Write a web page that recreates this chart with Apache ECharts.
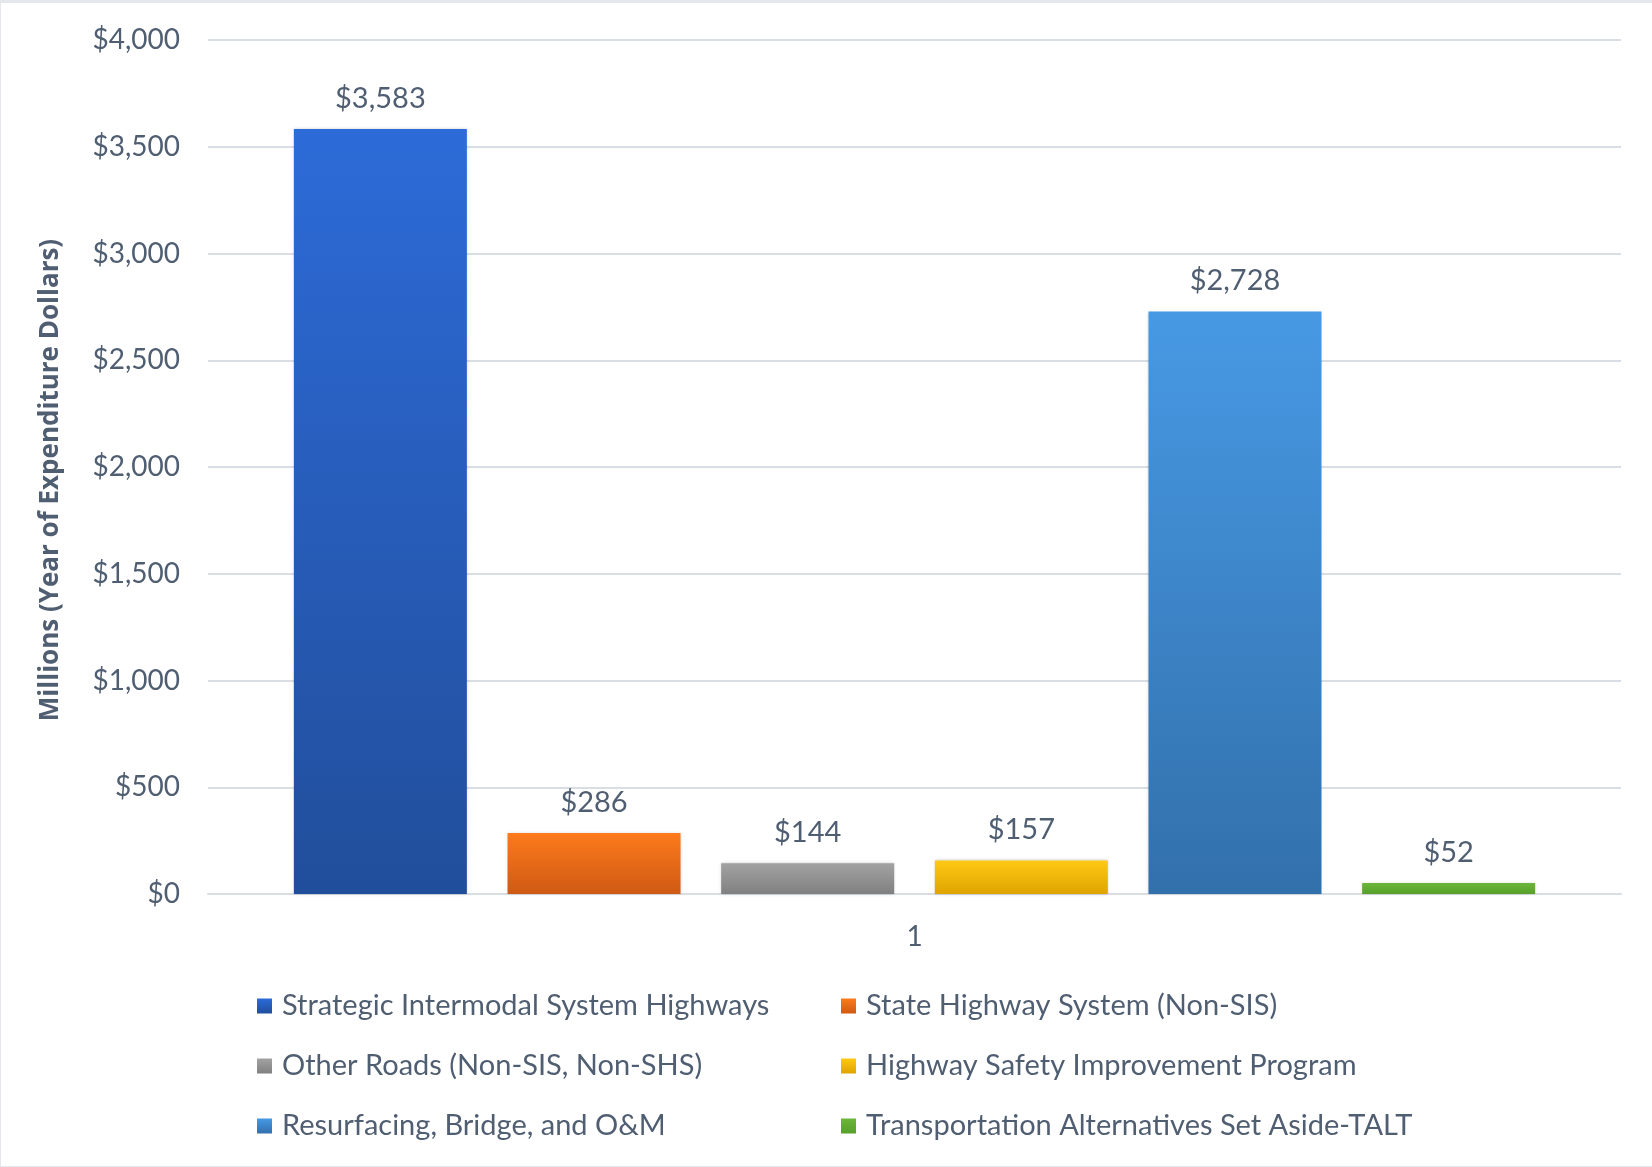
<!DOCTYPE html>
<html>
<head>
<meta charset="utf-8">
<script src="https://cdn.jsdelivr.net/npm/echarts@6/dist/echarts.min.js"></script>
<style>
    html, body { margin: 0; padding: 0; background: #e4e8ed; }
    #fundingChart {
        position: absolute;
        left: 1px;
        top: 3px;
        width: 1651px;
        height: 1163px;
        background: #fff;
    }
</style>
</head>
<body>
<div id="fundingChart"></div>
<script>
    // chart data
    const categories = ['1']
    const seriesNames = [
        'Strategic Intermodal System Highways',
        'State Highway System (Non-SIS)',
        'Other Roads (Non-SIS, Non-SHS)',
        'Highway Safety Improvement Program',
        'Resurfacing, Bridge, and O&M',
        'Transportation Alternatives Set Aside-TALT'
    ]
    const seriesValues = [3583, 286, 144, 157, 2728, 52]
    const yTicks = [0, 500, 1000, 1500, 2000, 2500, 3000, 3500, 4000]

    // gradient top / bottom per series
    const barColors = [
        ['#2d6bd8', '#214e9b'],
        ['#fd7a1c', '#cf5a14'],
        ['#a2a2a2', '#808080'],
        ['#ffc915', '#dea400'],
        ['#4799e4', '#3270ab'],
        ['#6cb63b', '#57a02a']
    ]

    const textColor = '#505e72'
    const font = 'Lato'

    const fmt = v => '$' + v.toLocaleString('en-US')

    const myChart = echarts.init(document.getElementById('fundingChart'))

    const series = seriesNames.map((name, i) => ({
        name: name,
        type: 'bar',
        data: [seriesValues[i]],
        barWidth: 173,
        barGap: '23.5%',
        itemStyle: {
            color: new echarts.graphic.LinearGradient(0, 0, 0, 1, [
                { offset: 0, color: barColors[i][0] },
                { offset: 1, color: barColors[i][1] }
            ]),
            shadowBlur: 3,
            shadowColor: 'rgba(0,0,0,0.2)'
        },
        label: {
            show: true,
            position: 'top',
            distance: 16,
            formatter: p => fmt(p.value),
            fontFamily: font,
            fontSize: 29,
            color: textColor
        }
    }))

    const legendText = {
        fontFamily: font,
        fontSize: 29,
        color: textColor,
        lineHeight: 30,
        padding: [0, 0, 0, 5]
    }

    const option = {
        animation: false,
        grid: {
            left: 207,
            right: 31,
            top: 37,
            bottom: 272
        },
        legend: [
            {
                data: [seriesNames[0], seriesNames[2], seriesNames[4]],
                orient: 'vertical',
                left: 256,
                top: 988,
                padding: 0,
                itemWidth: 15,
                itemHeight: 15,
                itemGap: 30,
                icon: 'rect',
                textStyle: legendText
            },
            {
                data: [seriesNames[1], seriesNames[3], seriesNames[5]],
                orient: 'vertical',
                left: 840,
                top: 988,
                padding: 0,
                itemWidth: 15,
                itemHeight: 15,
                itemGap: 30,
                icon: 'rect',
                textStyle: legendText
            }
        ],
        xAxis: {
            type: 'category',
            data: categories,
            axisTick: { show: false },
            axisLine: { lineStyle: { color: '#d9dee5', width: 2 } },
            axisLabel: {
                margin: 29,
                fontFamily: font,
                fontSize: 28,
                color: textColor
            }
        },
        yAxis: {
            type: 'value',
            min: yTicks[0],
            max: yTicks[yTicks.length - 1],
            interval: yTicks[1] - yTicks[0],
            name: 'Millions (Year of Expenditure Dollars)',
            nameLocation: 'middle',
            nameGap: 144,
            nameTextStyle: {
                fontFamily: 'Open Sans',
                fontWeight: 'bold',
                fontSize: 26,
                color: textColor,
                padding: [0, 26, 0, 0]
            },
            axisLine: { show: false },
            axisTick: { show: false },
            splitLine: { lineStyle: { color: '#d9dee5', width: 2 } },
            axisLabel: {
                margin: 28,
                formatter: v => fmt(v),
                fontFamily: font,
                fontSize: 28,
                color: textColor
            }
        },
        series: series
    }

    myChart.setOption(option)
</script>
</body>
</html>
